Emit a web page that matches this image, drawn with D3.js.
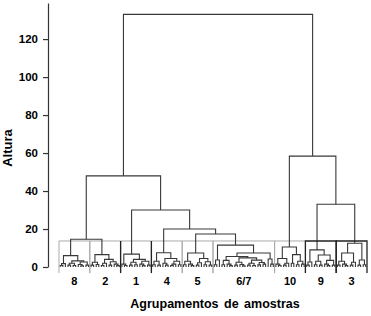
<!DOCTYPE html>
<html>
<head>
<meta charset="utf-8">
<style>
  body { margin: 0; background: #fff; }
  text { font-family: "Liberation Sans", Arial, sans-serif; font-weight: bold; fill: #000; }
</style>
</head>
<body>
<script src="https://cdn.jsdelivr.net/npm/d3@7/dist/d3.min.js"></script>
<script>
// node = [height, left, right], leaf = 0
var c8  = [6, [1.8, [0.8, 0, 0], 0], [3.2, [2, [1, 0, 0], [0.8, 0, 0]], [2.6, [1.3, 0, [0.6, 0, 0]], [1, 0, 0]]]];
var c2  = [6.5, [2.5, [1, 0, 0], [1.3, 0, 0]], [4, [2, [0.8, 0, 0], 0], [2.8, [1, 0, 0], [1.5, 0, [0.7, 0, 0]]]]];
var c1  = [6.8, [1.5, 0, [0.8, 0, 0]], [4, [2.5, [1, 0, 0], [1.2, 0, 0]], [3, [1.5, 0, [0.7, 0, 0]], [1, 0, 0]]]];
var c4  = [7.5, [3, [1.2, 0, 0], [1, 0, 0]], [4.5, [2, 0, [1, 0, 0]], [3, [1.5, [0.8, 0, 0], 0], [1.2, 0, 0]]]];
var c5  = [7.4, [3, [1.2, 0, 0], [1.5, 0, [0.7, 0, 0]]], [4.5, [2.2, [1, 0, 0], 0], [2.8, [1.2, 0, 0], [1, 0, 0]]]];
var c67 = [11.5, [3.7, [1.2, 0, 0], 0],
           [7.4, [5.5, [3.5, [1.2, 0, 0], [1.5, 0, [0.7, 0, 0]]],
                       [4.8, [2.5, [1, 0, 0], [1.3, 0, [0.6, 0, 0]]],
                             [3.6, [2, [1, 0, 0], [0.8, 0, 0]], [2.4, [1.1, 0, 0], [1.5, 0, 0]]]]],
                 [4.2, 0, [1.5, 0, 0]]]];
var c10 = [10.5, [4.5, [1.5, 0, [0.8, 0, 0]], [2, [1, 0, 0], 0]], [6.5, [2, 0, 0], [3, [1.2, 0, 0], [1.5, 0, 0]]]];
var c9  = [9, [2.6, [1, 0, 0], 0], [6.3, [3, [1.2, 0, 0], [1, 0, 0]], [3.5, [1.5, 0, [0.7, 0, 0]], [1, 0, 0]]]];
var c3  = [12.5, [7.4, [3, [1, 0, 0], [1.5, 0, [0.7, 0, 0]]], [2.5, [1, 0, 0], 0]], [3.7, [1, 0, 0], [1.2, 0, 0]]];

var groupNames = ["8", "2", "1", "4", "5", "6/7", "10", "9", "3"];
var groupTrees = [c8, c2, c1, c4, c5, c67, c10, c9, c3];
var darkGroups = ["9", "3"];
var darkSides = ["1"];
// upper merges, groups referenced by name
var topTree = [133, [48, [14.6, "8", "2"], [30, "1", [20, "4", [17.4, "5", "6/7"]]]], [58.4, "10", [33, "9", "3"]]];
var cutHeight = 13.7;
var yTicks = [0, 20, 40, 60, 80, 100, 120];

var width = 371, height = 316;
var svg = d3.select("body").append("svg")
    .attr("width", width)
    .attr("height", height);

function build(a, group) {
    if (typeof a === "string") return build(groupTrees[groupNames.indexOf(a)], a);
    if (a === 0) return {h: 0, group: group};
    return {h: a[0], group: group, children: [build(a[1], group), build(a[2], group)]};
}

var root = d3.hierarchy(build(topTree, null));
var leaves = root.leaves();

var x = d3.scaleBand().domain(d3.range(leaves.length)).range([59, 367]);
var y = d3.scaleLinear().domain([0, 139]).range([267, 3]);

leaves.forEach(function(d, i) { d.x = x(i) + x.bandwidth() / 2; d.i = i; });
root.eachAfter(function(d) {
    if (d.children) d.x = d3.mean(d.children, function(c) { return c.x; });
});

// group boxes
var groups = groupNames.map(function(name) {
    var ls = leaves.filter(function(d) { return d.data.group === name; });
    return {name: name, x0: x(ls[0].i), x1: x(ls[ls.length - 1].i) + x.bandwidth()};
});

function boxPath(g) {
    return "M" + g.x0 + "," + (y(-3.2)) + "V" + y(cutHeight) + "H" + g.x1 + "V" + y(-3.2);
}
function sidesPath(g) {
    return "M" + g.x0 + "," + (y(-3.2)) + "V" + y(cutHeight) + "M" + g.x1 + "," + y(cutHeight) + "V" + y(-3.2);
}

svg.append("g").selectAll("path")
    .data(groups.filter(function(g) { return darkGroups.indexOf(g.name) < 0; }))
    .enter().append("path")
    .attr("d", boxPath)
    .attr("fill", "none")
    .attr("stroke", "#aaa")
    .attr("stroke-width", 1);

// dendrogram
var links = root.descendants().filter(function(d) { return d.children; });
svg.append("g").selectAll("path")
    .data(links)
    .enter().append("path")
    .attr("fill", "none")
    .attr("stroke", "#383838")
    .attr("stroke-width", 1.1)
    .attr("d", function(d) {
        var a = d.children[0], b = d.children[1];
        return "M" + a.x + "," + y(a.data.h) + "V" + y(d.data.h) + "H" + b.x + "V" + y(b.data.h);
    });

svg.append("g").selectAll("path")
    .data(groups.filter(function(g) { return darkGroups.indexOf(g.name) >= 0; }))
    .enter().append("path")
    .attr("d", boxPath)
    .attr("fill", "none")
    .attr("stroke", "#222")
    .attr("stroke-width", 1.3);

svg.append("g").selectAll("path")
    .data(groups.filter(function(g) { return darkSides.indexOf(g.name) >= 0; }))
    .enter().append("path")
    .attr("d", sidesPath)
    .attr("fill", "none")
    .attr("stroke", "#222")
    .attr("stroke-width", 1.3);

// group labels
svg.append("g").selectAll("text")
    .data(groups)
    .enter().append("text")
    .attr("x", function(g) { return (g.x0 + g.x1) / 2; })
    .attr("y", 285)
    .attr("text-anchor", "middle")
    .attr("font-size", "11px")
    .text(function(g) { return g.name; });

// y axis
var yAxis = svg.append("g")
    .attr("transform", "translate(48,0)")
    .call(d3.axisLeft(y).tickValues(yTicks).tickSize(5).tickSizeOuter(0).tickPadding(5));
yAxis.select(".domain").attr("stroke", "#333").attr("stroke-width", 1.2);
yAxis.selectAll(".tick line").attr("stroke", "#333").attr("stroke-width", 1.2);
yAxis.selectAll(".tick text")
    .attr("font-size", "11.5px")
    .attr("font-family", "Liberation Sans, Arial, sans-serif")
    .attr("font-weight", "bold")
    .attr("fill", "#000");

svg.append("text")
    .attr("transform", "translate(12,148) rotate(-90)")
    .attr("text-anchor", "middle")
    .attr("font-size", "13px")
    .text("Altura");

svg.append("text")
    .attr("x", 215)
    .attr("y", 308)
    .attr("text-anchor", "middle")
    .attr("font-size", "12.5px")
    .attr("word-spacing", "2px")
    .text("Agrupamentos de amostras");
</script>
</body>
</html>
